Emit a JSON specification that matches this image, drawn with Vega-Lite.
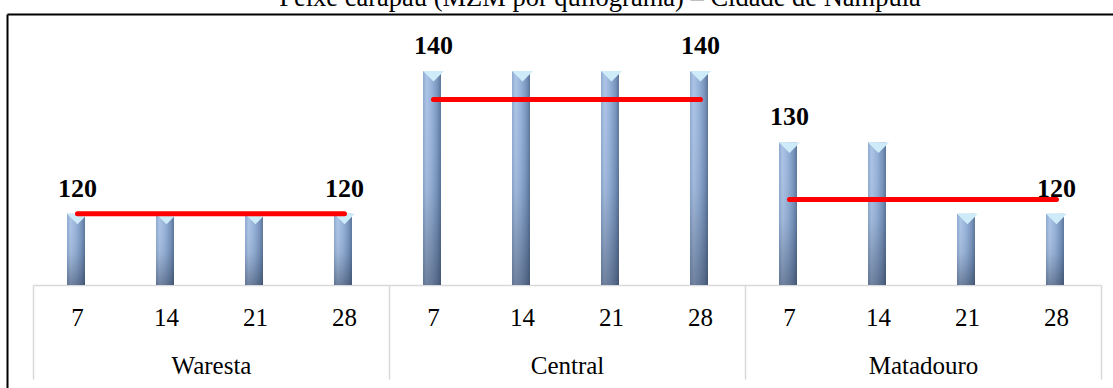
{
  "$schema": "https://vega.github.io/schema/vega-lite/v6.json",
  "width": 1106,
  "height": 374,
  "autosize": {"type": "none"},
  "padding": {"left": 7, "top": 14, "right": 0, "bottom": 0},
  "background": "white",
  "title": {
    "text": "Peixe carapau (MZM por quilograma) – Cidade de Nampula",
    "font": "Liberation Serif",
    "fontSize": 26.5,
    "fontWeight": "normal",
    "color": "#000000",
    "anchor": "middle",
    "baseline": "alphabetic",
    "offset": 0,
    "dx": 40,
    "dy": 18
  },
  "config": {"view": {"stroke": null}, "font": "Liberation Serif"},
  "data": {
    "values": [
      {"mercado": "Waresta", "dia": 7, "chave": "Waresta|7", "preco": 120, "media": 120},
      {"mercado": "Waresta", "dia": 14, "chave": "Waresta|14", "preco": 120, "media": 120},
      {"mercado": "Waresta", "dia": 21, "chave": "Waresta|21", "preco": 120, "media": 120},
      {"mercado": "Waresta", "dia": 28, "chave": "Waresta|28", "preco": 120, "media": 120},
      {"mercado": "Central", "dia": 7, "chave": "Central|7", "preco": 140, "media": 136},
      {"mercado": "Central", "dia": 14, "chave": "Central|14", "preco": 140, "media": 136},
      {"mercado": "Central", "dia": 21, "chave": "Central|21", "preco": 140, "media": 136},
      {"mercado": "Central", "dia": 28, "chave": "Central|28", "preco": 140, "media": 136},
      {"mercado": "Matadouro", "dia": 7, "chave": "Matadouro|7", "preco": 130, "media": 122},
      {"mercado": "Matadouro", "dia": 14, "chave": "Matadouro|14", "preco": 130, "media": 122},
      {"mercado": "Matadouro", "dia": 21, "chave": "Matadouro|21", "preco": 120, "media": 122},
      {"mercado": "Matadouro", "dia": 28, "chave": "Matadouro|28", "preco": 120, "media": 122}
    ]
  },
  "encoding": {
    "y": {
      "field": "preco",
      "type": "quantitative",
      "scale": {"domain": [95.56, 148], "nice": false, "zero": false},
      "axis": {
        "title": null,
        "labels": false,
        "ticks": false,
        "domain": true,
        "domainColor": "#000000",
        "domainWidth": 2,
        "grid": true,
        "values": [148],
        "gridColor": "#000000",
        "gridWidth": 2,
        "gridOpacity": 1
      }
    }
  },
  "layer": [
    {
      "encoding": {
        "x": {
          "field": "chave",
          "type": "nominal",
          "sort": null,
          "scale": {"paddingInner": 0.764, "paddingOuter": 0.5955, "align": 0.566},
          "axis": {
            "title": null,
            "orient": "bottom",
            "offset": -103,
            "domain": false,
            "ticks": false,
            "grid": false,
            "labelExpr": "split(datum.value, '|')[1]",
            "labelAngle": 0,
            "labelFont": "Liberation Serif",
            "labelFontSize": 25,
            "labelColor": "#000000",
            "labelBaseline": "alphabetic",
            "labelPadding": 40
          }
        }
      },
      "layer": [
        {
          "mark": {
            "type": "bar",
            "fill": {
              "gradient": "linear",
              "x1": 0, "y1": 0, "x2": 1, "y2": 0,
              "stops": [
                {"offset": 0, "color": "#8ea9d0"},
                {"offset": 0.2, "color": "#abc3e5"},
                {"offset": 0.5, "color": "#96b1d8"},
                {"offset": 0.8, "color": "#7894bc"},
                {"offset": 1, "color": "#5a7398"}
              ]
            },
            "strokeWidth": 0
          },
          "encoding": {"y2": {"datum": 110}}
        },
        {
          "mark": {
            "type": "bar",
            "fill": {
              "gradient": "linear",
              "x1": 0, "y1": 0, "x2": 0, "y2": 1,
              "stops": [
                {"offset": 0, "color": "rgba(255,255,255,0)"},
                {"offset": 0.55, "color": "rgba(40,55,80,0.08)"},
                {"offset": 1, "color": "rgba(30,40,60,0.42)"}
              ]
            },
            "strokeWidth": 0
          },
          "encoding": {"y2": {"datum": 110}}
        },
        {
          "mark": {
            "type": "point",
            "shape": "M-1,0L1,0L0,1Z",
            "size": 441,
            "filled": true,
            "fill": "#cdebf8",
            "strokeWidth": 0,
            "opacity": 1
          }
        },
        {
          "mark": {"type": "line", "color": "#ff0000", "strokeWidth": 5, "strokeCap": "round"},
          "encoding": {
            "y": {
              "field": "media",
              "type": "quantitative",
              "scale": {"domain": [95.56, 148], "nice": false, "zero": false},
              "axis": {
                "title": null,
                "labels": false,
                "ticks": false,
                "domain": true,
                "domainColor": "#000000",
                "domainWidth": 2,
                "grid": true,
                "values": [148],
                "gridColor": "#000000",
                "gridWidth": 2,
                "gridOpacity": 1
              }
            },
            "detail": {"field": "mercado", "type": "nominal"}
          }
        }
      ]
    },
    {
      "transform": [{"filter": "datum.dia == 7 || datum.dia == 28"}],
      "mark": {
        "type": "text",
        "font": "Liberation Serif",
        "fontSize": 26,
        "fontWeight": "bold",
        "color": "#000000",
        "baseline": "alphabetic",
        "dy": -17
      },
      "encoding": {
        "x": {
          "field": "mercado",
          "type": "nominal",
          "sort": null,
          "scale": {"domain": ["Waresta", "Central", "Matadouro"], "range": [26, 1094], "paddingInner": 0, "paddingOuter": 0},
          "axis": {
            "title": null,
            "orient": "bottom",
            "offset": -103,
            "domain": true,
            "domainColor": "#d9d9d9",
            "domainWidth": 1.5,
            "ticks": true,
            "tickBand": "extent",
            "tickSize": 94,
            "tickColor": "#d9d9d9",
            "tickWidth": 1.5,
            "grid": false,
            "labelAngle": 0,
            "labelFont": "Liberation Serif",
            "labelFontSize": 25,
            "labelColor": "#000000",
            "labelBaseline": "alphabetic",
            "labelPadding": -6
          }
        },
        "xOffset": {
          "field": "dia",
          "type": "ordinal",
          "scale": {"type": "point", "domain": [7, 14, 21, 28], "padding": 0.5}
        },
        "text": {"field": "preco", "type": "quantitative"}
      }
    }
  ],
  "resolve": {"scale": {"x": "independent"}, "axis": {"x": "independent"}}
}
